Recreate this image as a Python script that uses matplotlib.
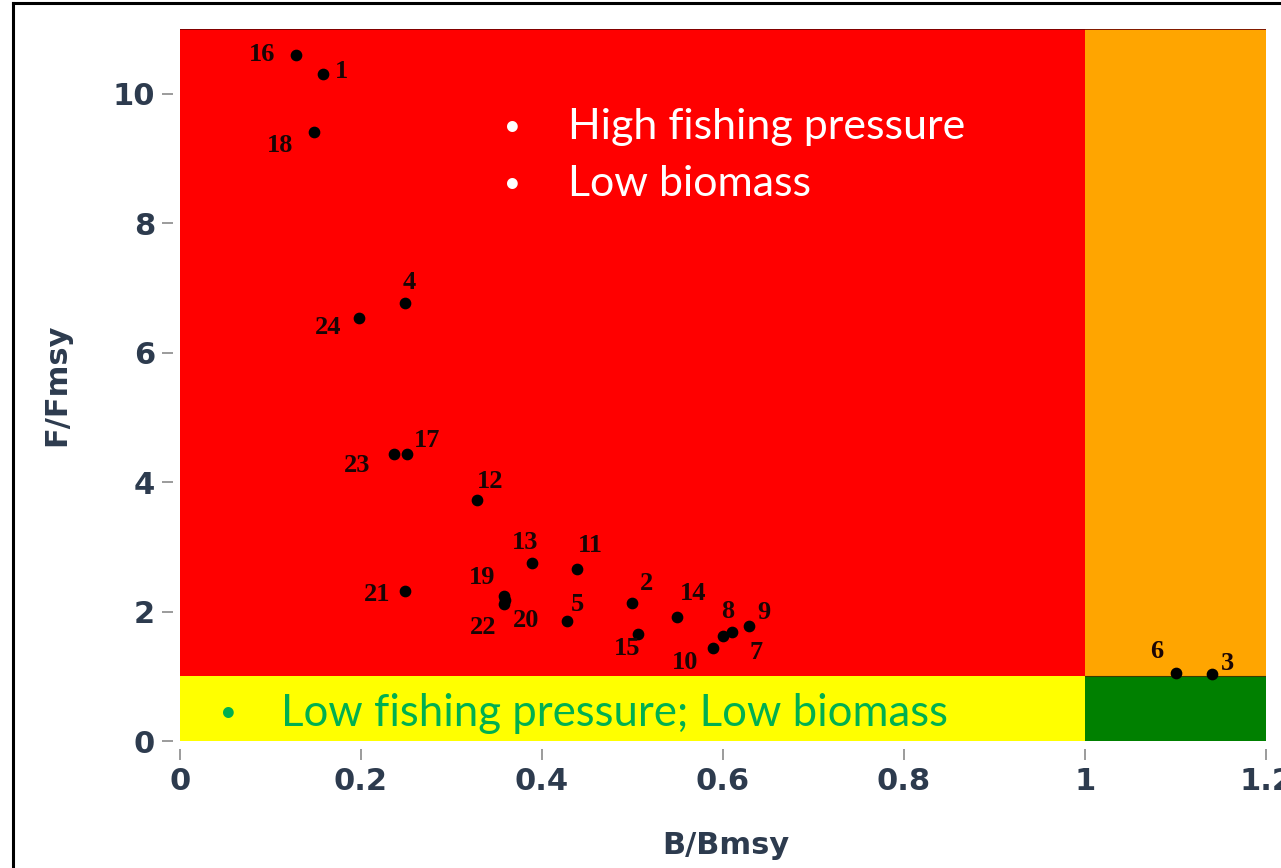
import matplotlib.pyplot as plt
from matplotlib.patches import Rectangle
from matplotlib.lines import Line2D

# stock status points (B/Bmsy, F/Fmsy)
labels = ['16', '1', '18', '4', '24', '23', '17', '12', '13', '11', '21', '19',
          '22', '20', '2', '14', '5', '15', '8', '7', '9', '10', '6', '3']
b_bmsy = [0.128, 0.158, 0.148, 0.249, 0.198, 0.236, 0.251, 0.328, 0.389, 0.439,
          0.249, 0.358, 0.358, 0.359, 0.499, 0.549, 0.428, 0.506, 0.600, 0.610,
          0.629, 0.589, 1.10, 1.14]
f_fmsy = [10.60, 10.31, 9.41, 6.76, 6.54, 4.43, 4.43, 3.72, 2.75, 2.65,
          2.31, 2.24, 2.11, 2.18, 2.13, 1.91, 1.85, 1.65, 1.62, 1.68,
          1.77, 1.44, 1.05, 1.03]
# label offsets in pixels (dx, dy), screen y up
offsets = [(-34, 0), (19, 2), (-34, -14), (4, 21), (-31, -10), (-37, -11),
           (20, 14), (13, 19), (-7, 21), (13, 24), (-28, -3), (-22, 19),
           (-21, -23), (21, -21), (15, 20), (16, 24), (10, 17), (-11, -14),
           (5, 25), (24, -20), (15, 14), (-28, -15), (-19, 22), (16, 11)]

xticks = [0, 0.2, 0.4, 0.6, 0.8, 1, 1.2]
xticklabels = ['0', '0.2', '0.4', '0.6', '0.8', '1', '1.2']
yticks = [0, 2, 4, 6, 8, 10]

fig = plt.figure(figsize=(12.81, 8.68), dpi=100)
ax = fig.add_axes([0.1405, 0.1463, 0.8478, 0.8203])

# quadrants
ax.add_patch(Rectangle((0, 1), 1, 10, facecolor='#ff0000', edgecolor='none'))
ax.add_patch(Rectangle((0, 0), 1, 1, facecolor='#ffff00', edgecolor='none'))
ax.add_patch(Rectangle((1, 1), 0.2, 10, facecolor='#ffa500', edgecolor='none'))
ax.add_patch(Rectangle((1, 0), 0.2, 1, facecolor='#008000', edgecolor='none'))
ax.axhline(11, color='#6a0000', lw=1.2)
ax.plot([1, 1.2], [1, 1], color='#3a3a00', lw=0.8)

ax.scatter(b_bmsy, f_fmsy, s=55, color='black', zorder=3)
for lab, x, y, (dx, dy) in zip(labels, b_bmsy, f_fmsy, offsets):
    ax.annotate(lab, (x, y), xytext=(dx, dy), textcoords='offset pixels',
                ha='center', va='center', fontsize=19, fontweight='bold',
                family='Liberation Serif', color='#1a0505', zorder=4)

ax.text(0.367, 9.49, '•', color='white', fontsize=21, ha='center', va='center', family='Lato')
ax.text(0.429, 9.49, 'High fishing pressure', color='white', fontsize=31, ha='left', va='center', family='Lato')
ax.text(0.367, 8.61, '•', color='white', fontsize=21, ha='center', va='center', family='Lato')
ax.text(0.429, 8.61, 'Low biomass', color='white', fontsize=31, ha='left', va='center', family='Lato')
ax.text(0.053, 0.43, '•', color='#00b050', fontsize=21, ha='center', va='center', family='Lato')
ax.text(0.112, 0.43, 'Low fishing pressure; Low biomass', color='#00b050', fontsize=31.5,
        ha='left', va='center', family='Lato')

ax.set_xlim(0, 1.2)
ax.set_ylim(0, 11)
ax.set_xticks(xticks)
ax.set_xticklabels(xticklabels)
ax.set_yticks(yticks)
for s in ax.spines.values():
    s.set_visible(False)
ax.spines['left'].set_position(('outward', 5))
ax.spines['bottom'].set_position(('outward', 6))
ax.tick_params(direction='out', length=8, width=1.2, color='#8a8a8a',
               labelsize=22, labelcolor='#2d3b4e', pad=5)
for t in ax.get_xticklabels() + ax.get_yticklabels():
    t.set_fontweight('bold')
    t.set_family('DejaVu Sans')

fig.text(726 / 1281, 1 - 845 / 868, 'B/Bmsy', fontsize=22, fontweight='bold',
         family='DejaVu Sans', color='#2d3b4e', ha='center', va='center')
fig.text(57 / 1281, 1 - 385 / 868, 'F/Fmsy', fontsize=22, fontweight='bold',
         family='DejaVu Sans', color='#2d3b4e', ha='center', va='center', rotation=90)

# outer frame (cropped on right and bottom)
fig.add_artist(Line2D([13 / 1281, 13 / 1281], [0, 1 - 3 / 868], transform=fig.transFigure, color='black', lw=2.2))
fig.add_artist(Line2D([13 / 1281, 1], [1 - 3 / 868, 1 - 3 / 868], transform=fig.transFigure, color='black', lw=2.2))

plt.savefig('out.png', dpi=100)
plt.close()
